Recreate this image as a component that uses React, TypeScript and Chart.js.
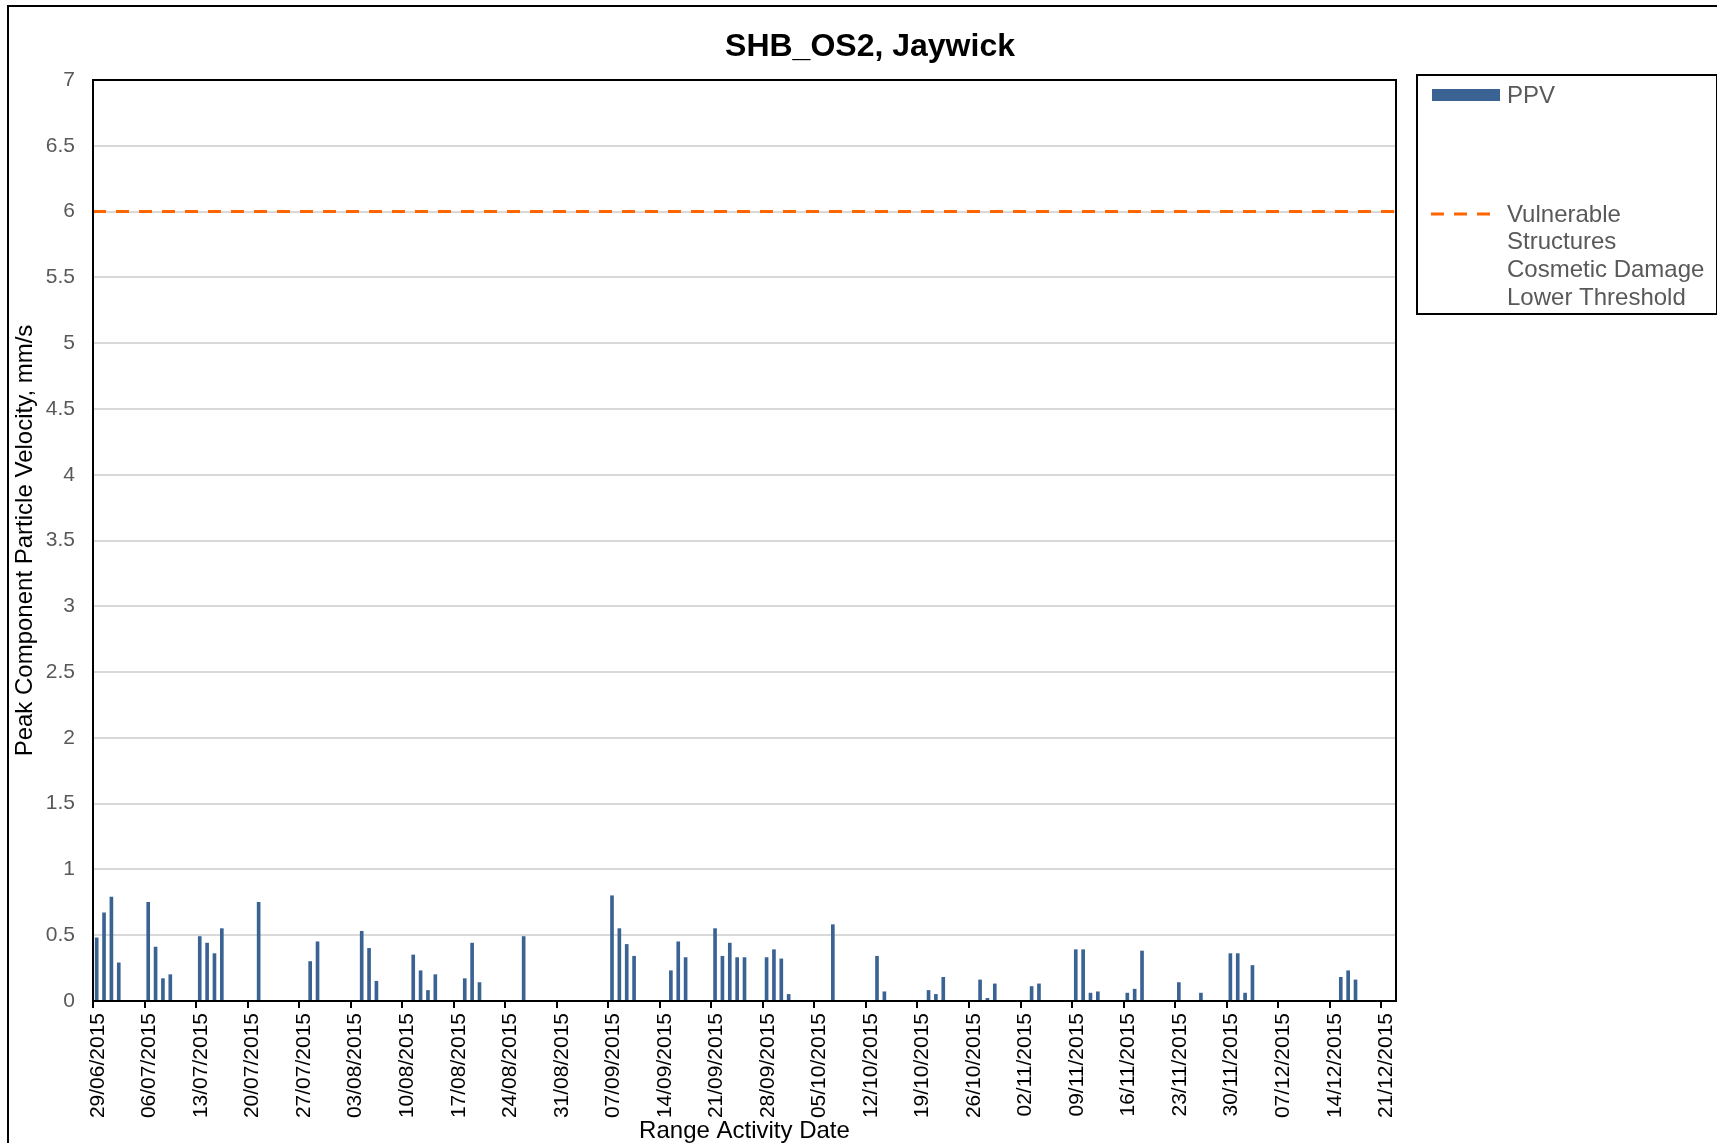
import React, { useEffect, useRef } from "react";
import { Chart, registerables } from "chart.js";

Chart.register(...registerables);

// ---------------- data ----------------
const chartTitle = "SHB_OS2, Jaywick";
const xAxisTitle = "Range Activity Date";
const yAxisTitle = "Peak Component Particle Velocity, mm/s";
const ppvLabel = "PPV";
const thresholdLabelLines = ["Vulnerable", "Structures", "Cosmetic Damage", "Lower Threshold"];
const thresholdValue = 6;

const axisStartDate = "2015-06-29";
const axisSpanDays = 177;

const tickLabels = [
  "29/06/2015", "06/07/2015", "13/07/2015", "20/07/2015", "27/07/2015",
  "03/08/2015", "10/08/2015", "17/08/2015", "24/08/2015", "31/08/2015",
  "07/09/2015", "14/09/2015", "21/09/2015", "28/09/2015", "05/10/2015",
  "12/10/2015", "19/10/2015", "26/10/2015", "02/11/2015", "09/11/2015",
  "16/11/2015", "23/11/2015", "30/11/2015", "07/12/2015", "14/12/2015",
  "21/12/2015",
];

const activityDates = [
  "2015-06-29", "2015-06-30", "2015-07-01", "2015-07-02",
  "2015-07-06", "2015-07-07", "2015-07-08", "2015-07-09",
  "2015-07-13", "2015-07-14", "2015-07-15", "2015-07-16",
  "2015-07-21",
  "2015-07-28", "2015-07-29",
  "2015-08-04", "2015-08-05", "2015-08-06",
  "2015-08-11", "2015-08-12", "2015-08-13", "2015-08-14",
  "2015-08-18", "2015-08-19", "2015-08-20",
  "2015-08-26",
  "2015-09-07", "2015-09-08", "2015-09-09", "2015-09-10",
  "2015-09-15", "2015-09-16", "2015-09-17",
  "2015-09-21", "2015-09-22", "2015-09-23", "2015-09-24", "2015-09-25",
  "2015-09-28", "2015-09-29", "2015-09-30", "2015-10-01",
  "2015-10-07",
  "2015-10-13", "2015-10-14",
  "2015-10-20", "2015-10-21", "2015-10-22",
  "2015-10-27", "2015-10-28", "2015-10-29",
  "2015-11-03", "2015-11-04",
  "2015-11-09", "2015-11-10", "2015-11-11", "2015-11-12",
  "2015-11-16", "2015-11-17", "2015-11-18",
  "2015-11-23", "2015-11-26",
  "2015-11-30", "2015-12-01", "2015-12-02", "2015-12-03",
  "2015-12-15", "2015-12-16", "2015-12-17",
];

const ppvValues = [
  0.48, 0.67, 0.79, 0.29,
  0.75, 0.41, 0.17, 0.2,
  0.49, 0.44, 0.36, 0.55,
  0.75,
  0.3, 0.45,
  0.53, 0.4, 0.15,
  0.35, 0.23, 0.08, 0.2,
  0.17, 0.44, 0.14,
  0.49,
  0.8, 0.55, 0.43, 0.34,
  0.23, 0.45, 0.33,
  0.55, 0.34, 0.44, 0.33, 0.33,
  0.33, 0.39, 0.32, 0.05,
  0.58,
  0.34, 0.07,
  0.08, 0.05, 0.18,
  0.16, 0.02, 0.13,
  0.11, 0.13,
  0.39, 0.39, 0.06, 0.07,
  0.06, 0.09, 0.38,
  0.14, 0.06,
  0.36, 0.36, 0.06, 0.27,
  0.18, 0.23, 0.16,
];

// ---------------- helpers ----------------
const FONT = "'Liberation Sans', Arial, sans-serif";
const BAR_COLOR = "#3a6394";
const LINE_COLOR = "#ff6600";

const toUTC = (iso: string) => {
  const [y, m, d] = iso.split("-").map(Number);
  return Date.UTC(y, m - 1, d);
};
const dayIndex = (iso: string) => Math.round((toUTC(iso) - toUTC(axisStartDate)) / 86400000);

export default function App() {
  const canvasRef = useRef<HTMLCanvasElement | null>(null);

  useEffect(() => {
    const canvas = canvasRef.current;
    if (!canvas) return;

    const barData = activityDates.map((d, i) => ({ x: dayIndex(d) + 0.5, y: ppvValues[i] }));
    const lineData = [
      { x: 0, y: thresholdValue },
      { x: axisSpanDays, y: thresholdValue },
    ];

    const decor = {
      id: "decor",
      beforeDraw(chart: any) {
        const ctx = chart.ctx;
        ctx.save();
        ctx.fillStyle = "#ffffff";
        ctx.fillRect(0, 0, chart.width, chart.height);
        ctx.restore();
      },
      afterDraw(chart: any) {
        const ctx = chart.ctx;
        const a = chart.chartArea;
        ctx.save();
        ctx.strokeStyle = "#000";
        ctx.lineWidth = 2;
        ctx.setLineDash([]);
        ctx.strokeRect(a.left, a.top, a.right - a.left, a.bottom - a.top);
        // outer frame
        ctx.beginPath();
        ctx.moveTo(8, chart.height + 10);
        ctx.lineTo(8, 6);
        ctx.lineTo(chart.width + 10, 6);
        ctx.stroke();
        // title
        ctx.fillStyle = "#000";
        ctx.font = `bold 32px ${FONT}`;
        ctx.textAlign = "center";
        ctx.textBaseline = "middle";
        ctx.fillText(chartTitle, 870, 47);
        // legend box
        ctx.lineWidth = 2;
        ctx.strokeRect(1417, 75, 300, 239);
        ctx.fillStyle = BAR_COLOR;
        ctx.fillRect(1432, 89, 68, 12);
        ctx.font = `24px ${FONT}`;
        ctx.textAlign = "left";
        ctx.fillStyle = "#595959";
        ctx.fillText(ppvLabel, 1507, 96);
        // dashed sample
        ctx.strokeStyle = LINE_COLOR;
        ctx.lineWidth = 3;
        ctx.setLineDash([13, 10]);
        ctx.beginPath();
        ctx.moveTo(1431, 214);
        ctx.lineTo(1491, 214);
        ctx.stroke();
        ctx.setLineDash([]);
        ctx.fillStyle = "#595959";
        thresholdLabelLines.forEach((t, i) => {
          ctx.fillText(t, 1507, 215 + i * 27.8);
        });
        ctx.restore();
      },
    };

    const chart = new Chart(canvas, {
      type: "bar",
      data: {
        datasets: [
          {
            type: "bar",
            label: ppvLabel,
            data: barData,
            backgroundColor: BAR_COLOR,
            borderWidth: 0,
            barThickness: 3,
            order: 2,
          } as any,
          {
            type: "line",
            label: thresholdLabelLines.join(" "),
            data: lineData,
            borderColor: LINE_COLOR,
            borderWidth: 3,
            borderDash: [13, 10],
            pointRadius: 0,
            fill: false,
            order: 1,
          } as any,
        ],
      },
      options: {
        responsive: false,
        animation: false,
        devicePixelRatio: 1,
        layout: { padding: { left: 8, top: 80, right: 321, bottom: 0 } },
        plugins: {
          legend: { display: false },
          title: { display: false },
          tooltip: { enabled: false },
        },
        scales: {
          x: {
            type: "linear",
            min: 0,
            max: axisSpanDays,
            offset: false,
            afterBuildTicks: (scale: any) => {
              scale.ticks = tickLabels.map((_, i) => ({ value: i * 7 }));
            },
            afterFit: (scale: any) => {
              scale.height = 142;
            },
            ticks: {
              autoSkip: false,
              minRotation: 90,
              maxRotation: 90,
              padding: 5,
              labelOffset: 5,
              color: "#000",
              font: { family: FONT, size: 21 },
              callback: (_v: any, i: number) => tickLabels[i],
            },
            grid: {
              offset: false,
              drawOnChartArea: false,
              drawTicks: true,
              tickLength: 7,
              color: "#000",
              lineWidth: 2,
            },
            border: { display: true, color: "#000", width: 2 },
            title: {
              display: true,
              text: xAxisTitle,
              color: "#000",
              font: { family: FONT, size: 24, lineHeight: 1 },
              padding: { top: 0, bottom: 0 },
            },
          },
          y: {
            type: "linear",
            min: 0,
            max: 7,
            afterFit: (scale: any) => {
              scale.width = 85;
            },
            ticks: {
              stepSize: 0.5,
              padding: 18,
              color: "#595959",
              font: { family: FONT, size: 21 },
              callback: (v: any) => String(Number(v)),
            },
            grid: {
              color: "#d9d9d9",
              lineWidth: 2,
              drawTicks: false,
            },
            border: { display: true, color: "#000", width: 2 },
            title: {
              display: true,
              text: yAxisTitle,
              color: "#000",
              font: { family: FONT, size: 24 },
              padding: { top: 3, bottom: 0 },
            },
          },
        },
      } as any,
      plugins: [decor],
    });

    return () => chart.destroy();
  }, []);

  return (
    <div
      style={{
        position: "fixed",
        left: 0,
        top: 0,
        width: 1717,
        height: 1143,
        background: "#fff",
        overflow: "hidden",
      }}
    >
      <canvas
        ref={canvasRef}
        width={1717}
        height={1143}
        style={{ display: "block", width: 1717, height: 1143 }}
      />
    </div>
  );
}
